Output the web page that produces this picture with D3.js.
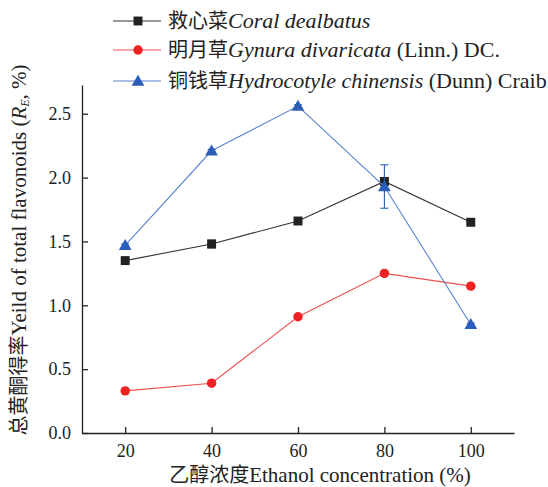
<!DOCTYPE html>
<html>
<head>
<meta charset="utf-8">
<script src="https://cdn.jsdelivr.net/npm/d3@7"></script>
<style>
  body { margin: 0; background: #fff; }
</style>
</head>
<body>
<svg id="chart" width="548" height="487"></svg>
<script>
const concentrations = [20, 40, 60, 80, 100];
const coralValues = [1.35, 1.48, 1.66, 1.97, 1.65];
const coralErrors = [0.01, 0.03, 0.01, 0.02, 0.01];
const gynuraValues = [0.33, 0.39, 0.91, 1.25, 1.15];
const gynuraErrors = [0.01, 0.01, 0.01, 0.01, 0.01];
const hydroValues = [1.47, 2.21, 2.56, 1.93, 0.85];
const hydroErrors = [0.01, 0.01, 0.01, 0.17, 0.01];
const yTicks = [0, 0.5, 1.0, 1.5, 2.0, 2.5];

const serif = "'Liberation Serif', 'Times New Roman', Times, 'DejaVu Serif', serif";
const cjk = "'Noto Sans CJK SC', sans-serif";

const series = [
  { cn: "救心菜", latin: "Coral dealbatus", extra: "", color: "#222", values: coralValues, errors: coralErrors, shape: d3.symbolSquare, size: 80 },
  { cn: "明月草", latin: "Gynura divaricata", extra: " (Linn.) DC.", color: "#ee2222", values: gynuraValues, errors: gynuraErrors, shape: d3.symbolCircle, size: 70 },
  { cn: "铜钱草", latin: "Hydrocotyle chinensis", extra: " (Dunn) Craib", color: "#2a5db8", values: hydroValues, errors: hydroErrors, shape: d3.symbolTriangle, size: 70 }
];
const lineColors = ["#333", "#f05050", "#5a82d0"];

const svg = d3.select("#chart");
const plotLeft = 82, plotRight = 514, plotTop = 85, plotBottom = 433;

const x = d3.scaleLinear().domain([10, 110]).range([plotLeft, plotRight]);
const y = d3.scaleLinear().domain([0, 2.725]).range([plotBottom, plotTop]);

// axes
svg.append("g")
  .attr("transform", "translate(0," + plotBottom + ")")
  .call(d3.axisBottom(x).tickValues(concentrations).tickSizeInner(-6).tickSizeOuter(0).tickPadding(11))
  .call(g => g.select(".domain").attr("stroke", "#222").attr("stroke-width", 1.3))
  .call(g => g.selectAll(".tick line").attr("stroke", "#222").attr("stroke-width", 1.3))
  .call(g => g.selectAll("text").style("font-family", serif).style("font-size", "18px").style("fill", "#222"));

svg.append("g")
  .attr("transform", "translate(" + plotLeft + ",0)")
  .call(d3.axisLeft(y).tickValues(yTicks).tickFormat(d3.format(".1f")).tickSizeInner(-6).tickSizeOuter(0).tickPadding(11))
  .call(g => g.select(".domain").attr("stroke", "#222").attr("stroke-width", 1.3))
  .call(g => g.selectAll(".tick line").attr("stroke", "#222").attr("stroke-width", 1.3))
  .call(g => g.selectAll("text").style("font-family", serif).style("font-size", "18px").style("fill", "#222"));

// axis titles
const xt = svg.append("text")
  .attr("x", 320)
  .attr("y", 482)
  .attr("text-anchor", "middle")
  .style("font-family", serif)
  .style("font-size", "21px")
  .style("fill", "#222");
xt.append("tspan").style("font-family", cjk).style("font-size", "20px").text("乙醇浓度");
xt.append("tspan").text("Ethanol concentration (%)");

const yt = svg.append("text")
  .attr("transform", "translate(26,250) rotate(-90)")
  .attr("text-anchor", "middle")
  .style("font-family", serif)
  .style("font-size", "21px")
  .style("fill", "#222");
yt.append("tspan").style("font-family", cjk).style("font-size", "20px").text("总黄酮得率");
yt.append("tspan").text("Yeild of total flavonoids (");
yt.append("tspan").style("font-style", "italic").text("R");
yt.append("tspan").style("font-style", "italic").style("font-size", "12px").attr("dy", 3).text("E");
yt.append("tspan").attr("dy", -3).text(", %)");

const line = d3.line().x(d => x(d[0])).y(d => y(d[1]));

series.forEach((s, i) => {
  const pts = concentrations.map((c, j) => [c, s.values[j], s.errors[j]]);
  svg.append("path")
    .attr("d", line(pts))
    .attr("fill", "none")
    .attr("stroke", lineColors[i])
    .attr("stroke-width", 1.1);

  const eb = svg.append("g").attr("stroke", s.color).attr("stroke-width", 1.1);
  pts.forEach(p => {
    eb.append("line").attr("x1", x(p[0])).attr("x2", x(p[0])).attr("y1", y(p[1] - p[2])).attr("y2", y(p[1] + p[2]));
    eb.append("line").attr("x1", x(p[0]) - 4).attr("x2", x(p[0]) + 4).attr("y1", y(p[1] - p[2])).attr("y2", y(p[1] - p[2]));
    eb.append("line").attr("x1", x(p[0]) - 4).attr("x2", x(p[0]) + 4).attr("y1", y(p[1] + p[2])).attr("y2", y(p[1] + p[2]));
  });

  svg.append("g").selectAll("path")
    .data(pts)
    .join("path")
    .attr("transform", d => "translate(" + x(d[0]) + "," + (y(d[1]) + (s.shape === d3.symbolTriangle ? 1 : 0)) + ")")
    .attr("d", d3.symbol(s.shape, s.size))
    .attr("fill", s.color);
});

// legend
const legendY = [21, 50, 81];
series.forEach((s, i) => {
  const g = svg.append("g").attr("transform", "translate(113," + legendY[i] + ")");
  g.append("line").attr("x1", 0).attr("x2", 48).attr("y1", 0).attr("y2", 0)
    .attr("stroke", lineColors[i]).attr("stroke-width", 1.1);
  g.append("path").attr("transform", "translate(25," + (s.shape === d3.symbolTriangle ? 1 : 0) + ")")
    .attr("d", d3.symbol(s.shape, s.size)).attr("fill", s.color);
  const t = g.append("text").attr("x", 55).attr("y", 7)
    .style("font-family", serif).style("font-size", "22px").style("fill", "#222");
  t.append("tspan").style("font-family", cjk).style("font-size", "20px").text(s.cn);
  t.append("tspan").style("font-style", "italic").text(s.latin);
  t.append("tspan").text(s.extra);
});
</script>
</body>
</html>
